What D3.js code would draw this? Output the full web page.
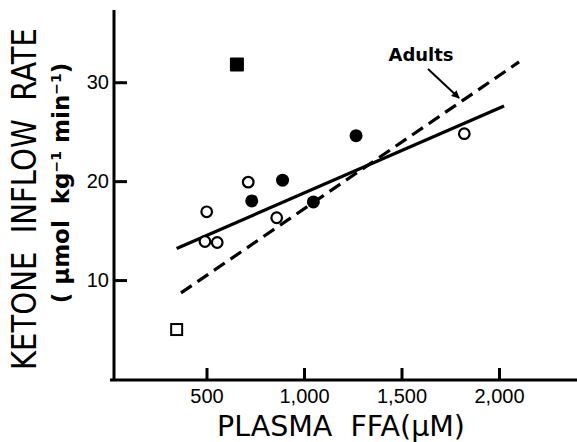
<!DOCTYPE html>
<html>
<head>
<meta charset="utf-8">
<script src="https://cdn.jsdelivr.net/npm/d3@7"></script>
<style>
    html, body { margin: 0; padding: 0; background: #fff; }
    svg { display: block; font-family: 'DejaVu Sans', sans-serif; }
    .title { white-space: pre; }
</style>
</head>
<body>
<svg id="chart" width="577" height="442"></svg>
<script>
// plasma FFA (uM) vs ketone inflow rate (umol/kg/min)
const openCircles = [
    { x: 501, y: 16.9 },
    { x: 492, y: 13.9 },
    { x: 555, y: 13.8 },
    { x: 714, y: 19.9 },
    { x: 860, y: 16.3 },
    { x: 1822, y: 24.8 },
];
const filledCircles = [
    { x: 732, y: 18.0 },
    { x: 890, y: 20.1 },
    { x: 1048, y: 17.9 },
    { x: 1267, y: 24.6 },
];
const openSquares = [{ x: 347, y: 5.0 }];
const filledSquares = [{ x: 656, y: 31.8 }];

// regression lines, end points in data units
const childLine = [{ x: 347, y: 13.2 }, { x: 2026, y: 27.6 }];
const adultLine = [{ x: 369, y: 8.7 }, { x: 2103, y: 32.05 }];

const xTicks = [500, 1000, 1500, 2000];
const yTicks = [10, 20, 30];

const width = 577;
const height = 442;

const xScale = d3.scaleLinear().domain([0, 2400]).range([109, 577]);
const yScale = d3.scaleLinear().domain([0, 37.3]).range([379, 10]);
const posX = (d) => xScale(d.x);
const posY = (d) => yScale(d.y);

const svg = d3.select('#chart');

const xAxis = d3.axisBottom(xScale)
    .tickValues(xTicks)
    .tickSize(-12)
    .tickSizeOuter(0)
    .tickPadding(9)
    .tickFormat(d3.format(','));

const yAxis = d3.axisLeft(yScale)
    .tickValues(yTicks)
    .tickSize(-13)
    .tickSizeOuter(0)
    .tickPadding(5);

const gx = svg.append('g')
    .attr('class', 'x axis')
    .attr('transform', 'translate(0, 380)')
    .call(xAxis);
gx.select('.domain').attr('d', 'M110,0H577');

const gy = svg.append('g')
    .attr('class', 'y axis')
    .attr('transform', 'translate(114, 0)')
    .call(yAxis);
gy.select('.domain').attr('d', 'M0,381V10');

svg.selectAll('.axis path, .axis line')
    .attr('stroke', '#000')
    .attr('stroke-width', 3);
svg.selectAll('.axis text')
    .attr('fill', '#000')
    .style('font-size', '20px');
gx.selectAll('text').attr('dy', '0.71em');

// axis titles
svg.append('text')
    .attr('class', 'title')
    .attr('x', 341)
    .attr('y', 436)
    .attr('text-anchor', 'middle')
    .attr('textLength', 248)
    .attr('lengthAdjust', 'spacingAndGlyphs')
    .style('font-size', '28px')
    .text('PLASMA  FFA(μM)');

svg.append('text')
    .attr('class', 'title')
    .attr('transform', 'translate(36, 199) rotate(-90)')
    .attr('text-anchor', 'middle')
    .attr('textLength', 342)
    .attr('lengthAdjust', 'spacingAndGlyphs')
    .style('font-size', '33px')
    .text('KETONE  INFLOW  RATE');

const unit = svg.append('text')
    .attr('class', 'title')
    .attr('transform', 'translate(69, 183) rotate(-90)')
    .attr('text-anchor', 'middle')
    .style('font-size', '23px')
    .style('font-weight', 'bold');
unit.append('tspan').text('( μmol  kg');
unit.append('tspan').attr('dy', -8).style('font-size', '14px').text('−1');
unit.append('tspan').attr('dy', 8).text(' min');
unit.append('tspan').attr('dy', -8).style('font-size', '14px').text('−1');
unit.append('tspan').attr('dy', 8).text(')');

// regression lines
const line = d3.line().x(posX).y(posY);

svg.append('path')
    .datum(childLine)
    .attr('d', line)
    .attr('fill', 'none')
    .attr('stroke', '#000')
    .attr('stroke-width', 3.2);

svg.append('path')
    .datum(adultLine)
    .attr('d', line)
    .attr('fill', 'none')
    .attr('stroke', '#000')
    .attr('stroke-width', 3.2)
    .attr('stroke-dasharray', '13,7');

// points
svg.append('g')
    .selectAll('circle')
    .data(openCircles)
    .enter()
    .append('circle')
    .attr('cx', posX)
    .attr('cy', posY)
    .attr('r', 5.3)
    .attr('fill', '#fff')
    .attr('stroke', '#000')
    .attr('stroke-width', 2.2);

svg.append('g')
    .selectAll('circle')
    .data(filledCircles)
    .enter()
    .append('circle')
    .attr('cx', posX)
    .attr('cy', posY)
    .attr('r', 6.5)
    .attr('fill', '#000');

svg.append('g')
    .selectAll('rect')
    .data(openSquares)
    .enter()
    .append('rect')
    .attr('x', (d) => posX(d) - 5.5)
    .attr('y', (d) => posY(d) - 5.5)
    .attr('width', 11)
    .attr('height', 11)
    .attr('fill', '#fff')
    .attr('stroke', '#000')
    .attr('stroke-width', 2);

svg.append('g')
    .selectAll('rect')
    .data(filledSquares)
    .enter()
    .append('rect')
    .attr('x', (d) => posX(d) - 7)
    .attr('y', (d) => posY(d) - 7)
    .attr('width', 14)
    .attr('height', 14)
    .attr('rx', 1)
    .attr('fill', '#000');

// "Adults" label with arrow pointing at the dashed line
svg.append('defs')
    .append('marker')
    .attr('id', 'head')
    .attr('viewBox', '0 0 10 10')
    .attr('refX', 9)
    .attr('refY', 5)
    .attr('markerWidth', 4)
    .attr('markerHeight', 4)
    .attr('orient', 'auto')
    .append('path')
    .attr('d', 'M0,0L10,5L0,10Z')
    .attr('fill', '#000');

const arrowX = 1795;
const adultSlope = (adultLine[1].y - adultLine[0].y) / (adultLine[1].x - adultLine[0].x);
const arrowY = adultLine[0].y + adultSlope * (arrowX - adultLine[0].x);

svg.append('line')
    .attr('x1', xScale(arrowX) - 31)
    .attr('y1', yScale(arrowY) - 34)
    .attr('x2', xScale(arrowX))
    .attr('y2', yScale(arrowY) - 5)
    .attr('stroke', '#000')
    .attr('stroke-width', 2)
    .attr('marker-end', 'url(#head)');

svg.append('text')
    .attr('x', xScale(arrowX) - 38)
    .attr('y', yScale(arrowY) - 42)
    .attr('text-anchor', 'middle')
    .style('font-size', '18px')
    .style('font-weight', 'bold')
    .text('Adults');
</script>
</body>
</html>
